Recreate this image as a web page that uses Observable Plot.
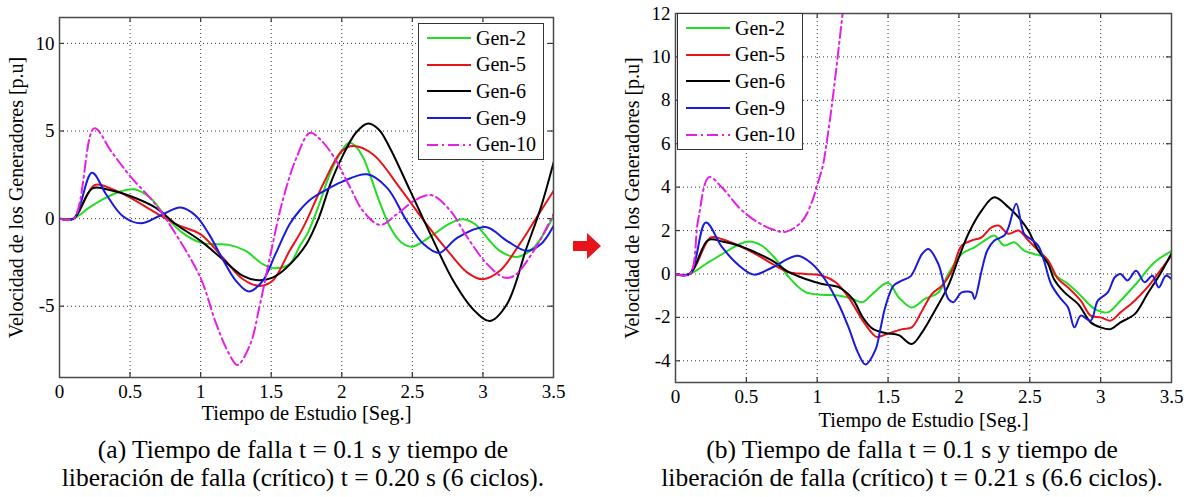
<!DOCTYPE html>
<html><head><meta charset="utf-8">
<script src="https://cdn.jsdelivr.net/npm/d3@7"></script>
<script src="https://cdn.jsdelivr.net/npm/@observablehq/plot@0.6"></script>
<style>
body{margin:0;background:#fff;}
#root{position:relative;width:1190px;height:497px;overflow:hidden;background:#fff;font-family:'Liberation Serif',serif;}
.panel{position:absolute;top:0;}
.legend{position:absolute;background:#fff;border:1.5px solid #333;box-sizing:border-box;}
.row{position:absolute;left:0;height:24px;display:flex;align-items:center;font-size:20px;font-family:'Liberation Serif',serif;white-space:nowrap;}
.row svg{margin-left:8px;margin-right:5px;}
.caption{position:absolute;text-align:center;font-size:25.5px;line-height:28px;font-family:'Liberation Serif',serif;color:#000;white-space:nowrap;}
</style></head><body><div id="root"></div>
<script>
// ---------- DATA ----------
const seriesNames = ["Gen-2", "Gen-5", "Gen-6", "Gen-9", "Gen-10"];
const xTickValues = [0, 0.5, 1, 1.5, 2, 2.5, 3, 3.5];
const yTicksA = [-5, 0, 5, 10];
const yTicksB = [-4, -2, 0, 2, 4, 6, 8, 10, 12];
const xLabel = "Tiempo de Estudio [Seg.]";
const yLabel = "Velocidad de los Generadores [p.u]";
const captionA = ["(a) Tiempo de falla t = 0.1 s y tiempo de", "liberación de falla (crítico) t = 0.20 s (6 ciclos)."];
const captionB = ["(b) Tiempo de falla t = 0.1 s y tiempo de", "liberación de falla (crítico) t = 0.21 s (6.6 ciclos)."];

// Panel (a) : [time, speed]
const a_gen2 = [[0,0],[0.1,0],[0.21,0.63],[0.33,1.2],[0.43,1.55],[0.53,1.67],[0.64,1.2],[0.75,0.15],[0.87,-0.8],[1.0,-1.37],[1.11,-1.46],[1.2,-1.5],[1.32,-1.84],[1.44,-2.6],[1.53,-2.83],[1.63,-2.6],[1.7,-1.6],[1.76,-0.8],[1.83,0.6],[1.94,3.0],[2.05,4.33],[2.09,4.2],[2.15,3.5],[2.2,2.5],[2.27,0.9],[2.35,-0.6],[2.42,-1.35],[2.5,-1.6],[2.65,-0.9],[2.76,-0.3],[2.86,-0.04],[2.95,-0.35],[3.0,-0.8],[3.12,-1.84],[3.24,-2.19],[3.36,-1.65],[3.5,0.15]];
const a_gen5 = [[0,0],[0.1,0],[0.25,1.92],[0.37,1.7],[0.5,1.2],[0.68,0.34],[0.825,-0.32],[1.0,-0.9],[1.156,-2.22],[1.3,-3.46],[1.42,-3.84],[1.51,-3.55],[1.63,-1.84],[1.7,-0.9],[1.75,-0.13],[1.87,2.0],[2.0,3.86],[2.08,4.14],[2.22,3.67],[2.41,1.77],[2.6,-0.32],[2.77,-2.03],[2.89,-3.08],[3.0,-3.46],[3.12,-2.98],[3.26,-1.46],[3.38,0.06],[3.5,1.58]];
const a_gen6 = [[0,0],[0.1,0],[0.234,1.73],[0.37,1.6],[0.5,1.29],[0.68,0.63],[0.825,-0.32],[1.0,-1.27],[1.156,-2.32],[1.3,-3.27],[1.41,-3.52],[1.5,-3.4],[1.58,-3.0],[1.68,-2.2],[1.75,-1.45],[1.835,0],[1.92,2.0],[2.0,3.48],[2.1,4.9],[2.18,5.42],[2.26,5.1],[2.34,4.05],[2.485,1.58],[2.65,-1.27],[2.79,-3.55],[2.93,-5.17],[3.05,-5.84],[3.17,-4.89],[3.31,-1.65],[3.41,0.63],[3.5,3.19]];
const a_gen9 = [[0,0],[0.1,0],[0.23,2.62],[0.33,1.39],[0.447,0.15],[0.577,-0.27],[0.707,0.15],[0.86,0.63],[0.967,0.15],[1.06,-0.9],[1.156,-2.32],[1.25,-3.55],[1.34,-4.16],[1.44,-3.55],[1.53,-2.03],[1.63,-0.32],[1.7,0.45],[1.78,1.1],[1.88,1.6],[2.0,2.1],[2.18,2.53],[2.32,1.77],[2.46,-0.13],[2.58,-1.46],[2.69,-1.96],[2.82,-1.08],[3.02,-0.48],[3.17,-1.27],[3.31,-1.84],[3.41,-1.46],[3.5,-0.42]];
const a_gen10 = [[0,0],[0.1,0],[0.246,5.15],[0.37,3.8],[0.5,2.43],[0.68,0.82],[0.825,-0.9],[1.0,-3.4],[1.11,-6.0],[1.2,-7.7],[1.26,-8.35],[1.35,-7.2],[1.42,-4.9],[1.5,-1.85],[1.58,1.0],[1.68,3.5],[1.775,4.9],[1.85,4.5],[1.94,3.57],[2.06,1.77],[2.15,0.44],[2.27,-0.36],[2.39,0.25],[2.53,1.1],[2.64,1.33],[2.77,0.44],[2.89,-1.08],[3.03,-2.6],[3.15,-3.36],[3.22,-3.27],[3.36,-1.84],[3.5,0.25]];

// Panel (b)
const b_gen2 = [[0,0],[0.1,0],[0.214,0.46],[0.33,0.92],[0.45,1.37],[0.52,1.5],[0.61,1.3],[0.707,0.69],[0.8,-0.15],[0.918,-0.84],[1.035,-0.96],[1.15,-0.99],[1.25,-1.15],[1.32,-1.3],[1.39,-0.92],[1.5,-0.41],[1.575,-1.07],[1.667,-1.54],[1.76,-1.15],[1.855,-0.85],[1.925,0],[2.02,0.92],[2.11,1.23],[2.2,1.62],[2.25,1.77],[2.32,1.31],[2.39,1.46],[2.46,1.08],[2.53,0.92],[2.6,0.77],[2.67,0],[2.77,-0.46],[2.86,-1.0],[2.955,-1.6],[3.05,-1.77],[3.14,-1.23],[3.26,-0.38],[3.38,0.54],[3.5,1.05]];
const b_gen5 = [[0,0],[0.1,0],[0.249,1.68],[0.33,1.6],[0.45,1.3],[0.566,0.92],[0.683,0.46],[0.8,0.08],[0.918,0],[1.035,-0.08],[1.13,-0.38],[1.22,-1.07],[1.32,-2.14],[1.39,-2.75],[1.42,-2.9],[1.5,-2.75],[1.6,-2.54],[1.667,-2.46],[1.74,-1.69],[1.81,-0.92],[1.88,-0.54],[1.95,0.15],[2.02,1.31],[2.09,1.54],[2.16,1.69],[2.23,2.15],[2.28,2.23],[2.35,1.85],[2.42,2.0],[2.49,1.54],[2.56,1.08],[2.63,0.62],[2.7,-0.23],[2.77,-0.62],[2.86,-1.23],[2.93,-1.92],[3.0,-2.0],[3.07,-2.15],[3.14,-1.77],[3.24,-1.23],[3.33,-0.62],[3.42,0.15],[3.5,0.85]];
const b_gen6 = [[0,0],[0.1,0],[0.23,1.56],[0.33,1.5],[0.45,1.3],[0.566,0.99],[0.683,0.61],[0.8,0.08],[0.918,-0.23],[1.035,-0.46],[1.15,-0.61],[1.25,-1.15],[1.32,-1.98],[1.39,-2.52],[1.48,-2.72],[1.575,-2.82],[1.667,-3.23],[1.74,-2.69],[1.83,-1.69],[1.925,-0.54],[2.0,0.77],[2.07,1.9],[2.16,2.92],[2.25,3.53],[2.35,3.07],[2.44,2.46],[2.49,2.0],[2.56,1.08],[2.63,0.46],[2.67,-0.23],[2.745,-0.85],[2.84,-1.38],[2.93,-2.23],[3.0,-2.46],[3.07,-2.54],[3.14,-2.23],[3.24,-1.85],[3.33,-0.92],[3.42,0],[3.5,0.95]];
const b_gen9 = [[0,0],[0.1,0],[0.214,2.37],[0.33,1.22],[0.45,0.38],[0.554,-0.03],[0.683,0.3],[0.86,0.84],[0.965,0.46],[1.06,-0.3],[1.15,-1.37],[1.22,-2.44],[1.29,-3.66],[1.34,-4.17],[1.41,-3.51],[1.447,-2.5],[1.48,-1.53],[1.54,-0.53],[1.6,-0.3],[1.66,-0.1],[1.74,0.92],[1.785,1.15],[1.855,0.46],[1.925,-1.15],[1.96,-1.3],[2.02,-0.85],[2.09,-0.85],[2.11,-1.15],[2.16,0.15],[2.2,1.08],[2.25,1.54],[2.32,1.77],[2.35,2.15],[2.405,3.23],[2.46,1.85],[2.51,1.6],[2.56,1.3],[2.6,0.62],[2.65,-0.46],[2.72,-1.15],[2.77,-1.54],[2.815,-2.46],[2.86,-1.92],[2.93,-2.15],[2.98,-1.23],[3.05,-0.85],[3.1,-0.15],[3.14,0],[3.19,-0.3],[3.25,0.15],[3.31,-0.38],[3.365,-0.08],[3.41,-0.62],[3.46,-0.08],[3.5,-0.23]];
const b_gen10 = [[0,0],[0.1,0],[0.16,2.5],[0.237,4.46],[0.33,3.97],[0.45,3.05],[0.566,2.44],[0.683,2.06],[0.777,1.94],[0.894,2.44],[0.965,3.36],[1.0,4.1],[1.04,5.0],[1.07,6.2],[1.1,7.6],[1.13,9.2],[1.16,10.9],[1.19,12.6]];

// ---------- STYLE ----------
const colors = {"Gen-2": "#22dd22", "Gen-5": "#e8141a", "Gen-6": "#000000", "Gen-9": "#1a1adc", "Gen-10": "#e61ee6"};
const dashes = {"Gen-10": "11,4,2,4"};
const serif = "'Liberation Serif', serif";

function makePanel({data, yDomain, yTicks, width, height, ml, mr, mt, mb, yTitleDx, xTitleDy}) {
  const xDomain = [0, 3.5];
  const fw = width - ml - mr, fh = height - mt - mb;
  const tickPx = 5;
  const dy = (yDomain[1] - yDomain[0]) * tickPx / fh;
  const dx = (xDomain[1] - xDomain[0]) * tickPx / fw;
  const innerX = xTickValues.filter(v => v > xDomain[0] && v < xDomain[1]);
  const innerY = yTicks.filter(v => v > yDomain[0] && v < yDomain[1]);
  const gridStyle = {stroke: "#111", strokeOpacity: 0.85, strokeWidth: 1, strokeDasharray: "1,3"};
  const tickStyle = {stroke: "#333", strokeWidth: 1.2};
  const marks = [
    Plot.gridX(innerX, gridStyle),
    Plot.gridY(innerY, gridStyle),
    Plot.ruleX(innerX, {x: d => d, y1: yDomain[0], y2: yDomain[0] + dy, ...tickStyle}),
    Plot.ruleX(innerX, {x: d => d, y1: yDomain[1], y2: yDomain[1] - dy, ...tickStyle}),
    Plot.ruleY(innerY, {y: d => d, x1: xDomain[0], x2: xDomain[0] + dx, ...tickStyle}),
    Plot.ruleY(innerY, {y: d => d, x1: xDomain[1], x2: xDomain[1] - dx, ...tickStyle}),
  ];
  seriesNames.forEach(name => {
    marks.push(Plot.line(data[name], {
      x: d => d[0], y: d => d[1], stroke: colors[name], strokeWidth: 2,
      strokeDasharray: dashes[name] || null, curve: "catmull-rom", clip: true
    }));
  });
  marks.push(Plot.frame({stroke: "#4a4a4a", strokeWidth: 1.5}));
  marks.push(Plot.axisX({ticks: xTickValues, tickFormat: d => String(d), tickSize: 0, tickPadding: 7, label: null, fontSize: 19}));
  marks.push(Plot.axisY({ticks: yTicks, tickFormat: d => String(d), tickSize: 0, tickPadding: 5, label: null, fontSize: 19}));
  marks.push(Plot.text([xLabel], {text: d => d, frameAnchor: "bottom", dy: xTitleDy, lineAnchor: "middle", textAnchor: "middle", fontSize: 20.5, fill: "#000"}));
  marks.push(Plot.text([yLabel], {text: d => d, frameAnchor: "left", dx: yTitleDx, rotate: -90, lineAnchor: "middle", textAnchor: "middle", fontSize: 20, fill: "#000"}));
  return Plot.plot({
    width, height, marginLeft: ml, marginRight: mr, marginTop: mt, marginBottom: mb,
    x: {domain: xDomain}, y: {domain: yDomain},
    style: {fontFamily: serif, fontSize: "19px", color: "#000", background: "transparent", overflow: "visible"},
    marks
  });
}

const root = document.getElementById("root");

function addPanel(opts, left) {
  const el = makePanel(opts);
  el.classList.add("panel");
  el.style.left = left + "px";
  root.appendChild(el);
}

addPanel({
  data: {"Gen-2": a_gen2, "Gen-5": a_gen5, "Gen-6": a_gen6, "Gen-9": a_gen9, "Gen-10": a_gen10},
  yDomain: [-9.07, 11.48], yTicks: yTicksA,
  width: 570, height: 440, ml: 59, mr: 17, mt: 17, mb: 63, yTitleDx: -43, xTitleDy: 36
}, 0);

addPanel({
  data: {"Gen-2": b_gen2, "Gen-5": b_gen5, "Gen-6": b_gen6, "Gen-9": b_gen9, "Gen-10": b_gen10},
  yDomain: [-5, 12], yTicks: yTicksB,
  width: 590, height: 440, ml: 75, mr: 19, mt: 13, mb: 58, yTitleDx: -43, xTitleDy: 38
}, 600);

// Legends
function addLegend(left, top) {
  const box = document.createElement("div");
  box.className = "legend";
  Object.assign(box.style, {left: left + "px", top: top + "px", width: "126px", height: "137px"});
  seriesNames.forEach((name, i) => {
    const row = document.createElement("div");
    row.className = "row";
    row.style.top = (2 + i * 26.7) + "px";
    const ns = "http://www.w3.org/2000/svg";
    const s = document.createElementNS(ns, "svg");
    s.setAttribute("width", 44); s.setAttribute("height", 10);
    const ln = document.createElementNS(ns, "line");
    ln.setAttribute("x1", 0); ln.setAttribute("x2", 44); ln.setAttribute("y1", 5); ln.setAttribute("y2", 5);
    ln.setAttribute("stroke", colors[name]); ln.setAttribute("stroke-width", 2);
    if (dashes[name]) ln.setAttribute("stroke-dasharray", dashes[name]);
    s.appendChild(ln);
    row.appendChild(s);
    const t = document.createElement("span");
    t.textContent = name;
    row.appendChild(t);
    box.appendChild(row);
  });
  root.appendChild(box);
}
addLegend(418, 23);
addLegend(677, 13);

// Arrow between panels
(function(){
  const ns = "http://www.w3.org/2000/svg";
  const s = document.createElementNS(ns, "svg");
  s.setAttribute("width", 32); s.setAttribute("height", 30);
  Object.assign(s.style, {position: "absolute", left: "571px", top: "231px"});
  const p = document.createElementNS(ns, "polygon");
  p.setAttribute("points", "2,10 16,10 16,2 30,15 16,28 16,20 2,20");
  p.setAttribute("fill", "#e8141a");
  s.appendChild(p);
  root.appendChild(s);
})();

// Captions
function addCaption(lines, center) {
  const d = document.createElement("div");
  d.className = "caption";
  Object.assign(d.style, {left: (center - 300) + "px", width: "600px", top: "436px"});
  lines.forEach((l, i) => {
    if (i) d.appendChild(document.createElement("br"));
    d.appendChild(document.createTextNode(l));
  });
  root.appendChild(d);
}
addCaption(captionA, 303);
addCaption(captionB, 912);
</script>
</body></html>
